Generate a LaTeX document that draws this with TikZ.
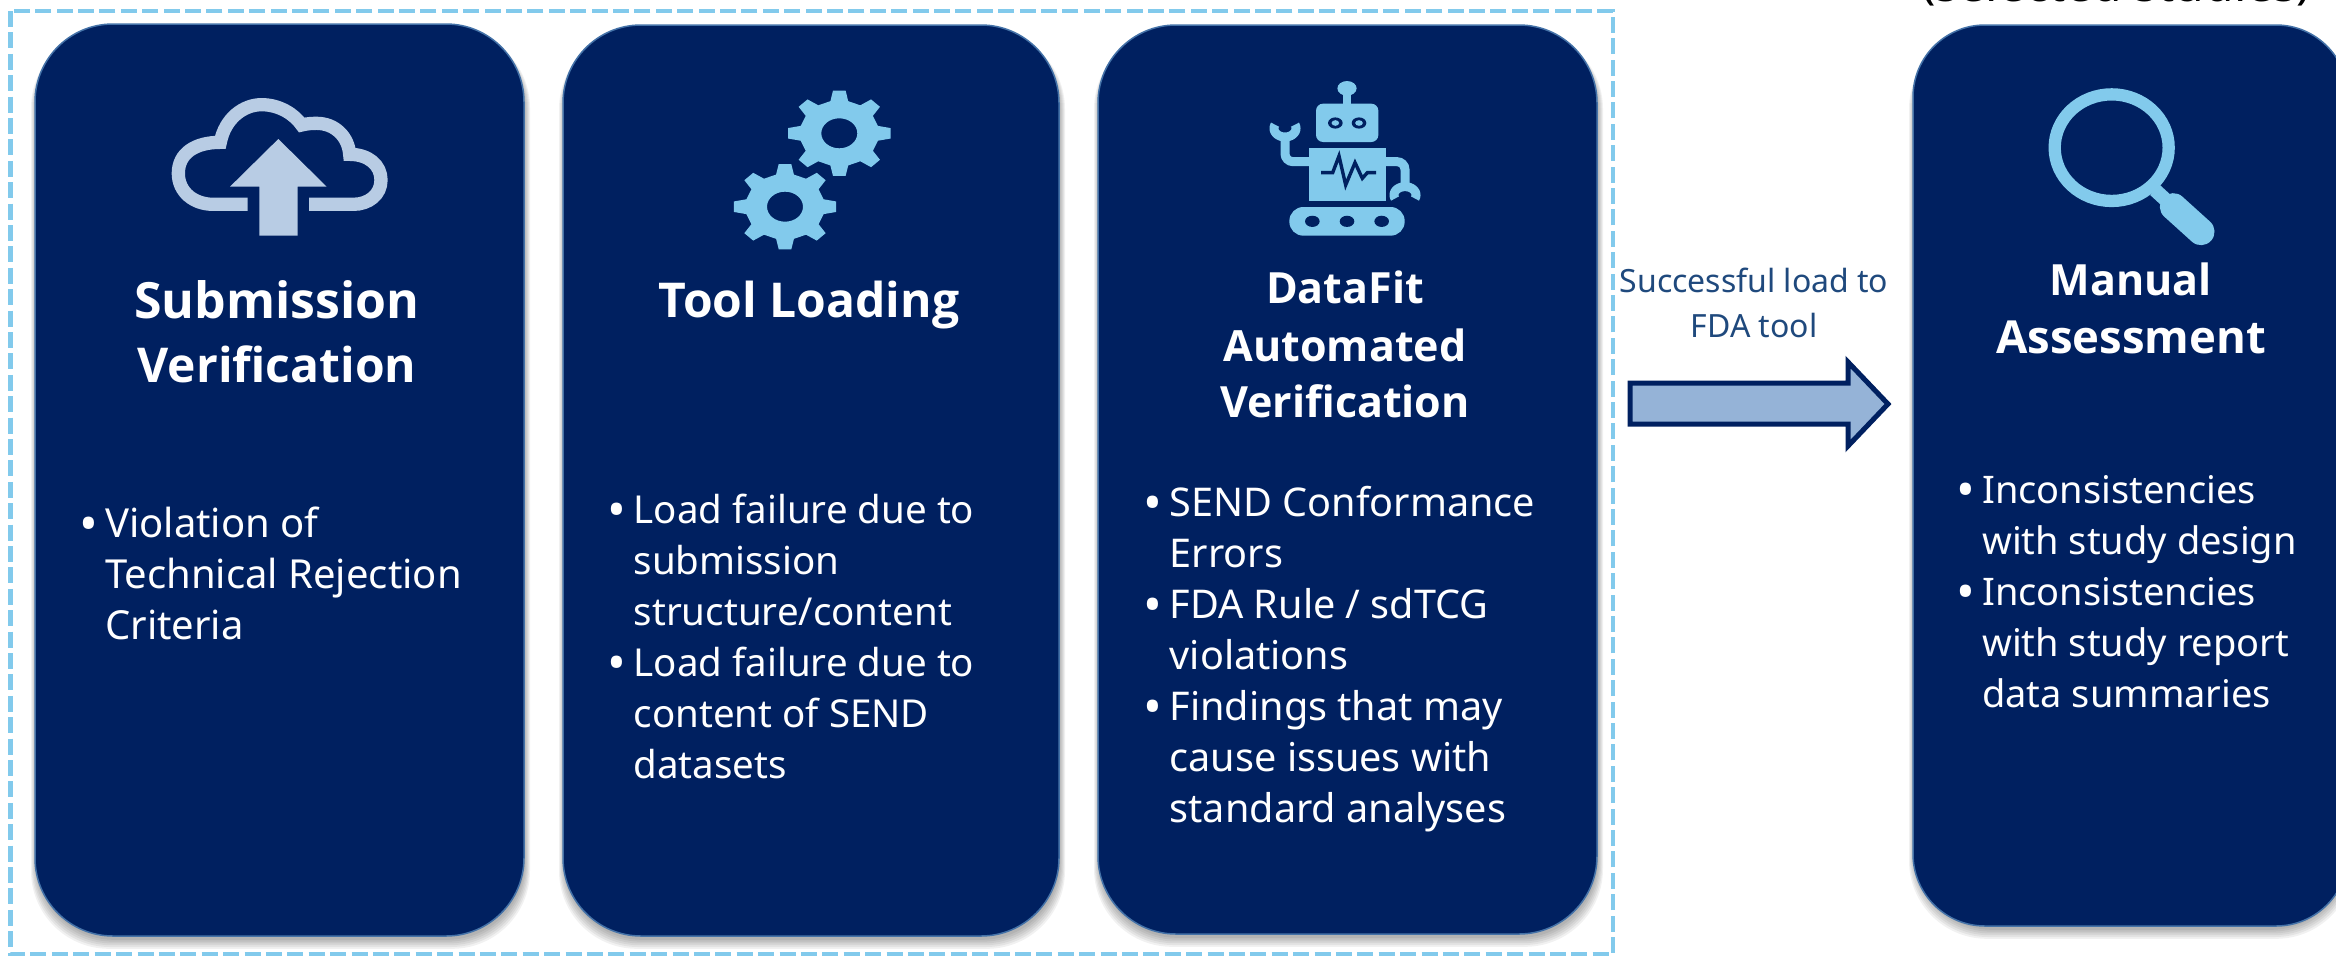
\documentclass[tikz,border=0pt]{standalone}
\usepackage{fontspec}
\setmainfont{Noto Sans}
\newfontfamily\headfont{Open Sans}
\definecolor{navy}{HTML}{002060}
\definecolor{edgeblue}{HTML}{4472A8}
\definecolor{sky}{HTML}{82CAEC}
\definecolor{cloudc}{HTML}{B8CCE4}
\definecolor{arrowfill}{HTML}{95B3D7}
\definecolor{labelc}{HTML}{1F497D}
\tikzset{
  cardbox/.style={draw=edgeblue,line width=1.5pt,fill=navy,rounded corners=78pt,inner sep=0pt},
  shadowbox/.style={fill=black,fill opacity=.055,rounded corners=78pt},
  titletxt/.style={text=white,font=\headfont\bfseries\fontsize{48}{64}\selectfont,inner sep=0pt,anchor=base},
  titlesm/.style={text=white,font=\headfont\bfseries\fontsize{43}{57}\selectfont,inner sep=0pt,anchor=base},
  bodytxt/.style={text=white,font=\fontsize{#1}{51}\selectfont,inner sep=0pt,align=left,anchor=base west},
  labeltxt/.style={text=labelc,font=\fontsize{32}{45}\selectfont,inner sep=0pt,anchor=base},
  toptxt/.style={text=black,font=\fontsize{48}{50}\selectfont,inner sep=0pt,anchor=base},
  dashbox/.style={draw=sky,line width=4.5pt,dash pattern=on 16pt off 5.4pt},
  iconline/.style={draw=sky,line width=9pt},
}
\newcommand{\bul}{\leavevmode\llap{\raisebox{-4.5pt}{\fontsize{50}{51}\selectfont •}\hspace{7pt}}}
\newcommand{\shad}[4]{%
  \foreach \g in {1,...,6}{%
    \fill[shadowbox] (#1-\g+2,#2+6) rectangle (#3+\g,#4+2+1.8*\g);
  }}
\newcommand{\gear}[2]{%
  \begin{scope}[shift={(#1,#2)},x=1.2pt,y=1pt]
    \fill[sky,even odd rule] (-13:33)
      \foreach \a in {0,45,...,315}{ -- (\a-13:33) -- (\a-7:43) -- (\a+7:43) -- (\a+13:33) } -- cycle
      (15,0) .. controls (15,8.3) and (8.3,15) .. (0,15) .. controls (-8.3,15) and (-15,8.3) .. (-15,0)
      .. controls (-15,-8.3) and (-8.3,-15) .. (0,-15) .. controls (8.3,-15) and (15,-8.3) .. (15,0) -- cycle;
  \end{scope}}
\begin{document}
\begin{tikzpicture}[x=1pt,y=-1pt]
\useasboundingbox (0,0) rectangle (2336,956);
\clip (0,0) rectangle (2336,956);
\fill[white] (0,0) rectangle (2336,956);

% dashed frame
\draw[dashbox] (10.5,11) rectangle (1613,954);

% shadows and cards
\shad{35}{24}{524}{936}
\shad{563}{25}{1059}{936}
\shad{1098}{25}{1597}{934}
\shad{1913}{25}{2348}{926}
\node[cardbox,minimum width=489pt,minimum height=912pt] (c1) at (279.5,480) {};
\node[cardbox,minimum width=496pt,minimum height=911pt] (c2) at (811,480.5) {};
\node[cardbox,minimum width=499pt,minimum height=909pt] (c3) at (1347.5,479.5) {};
\node[cardbox,rounded corners=72pt,minimum width=435pt,minimum height=901pt] (c4) at (2130.5,475.5) {};

% top text
\node[toptxt] (top) at (2116,1.5) {\raisebox{3pt}{(}selected studies\raisebox{3pt}{)}};

% titles
\node[titletxt,font=\headfont\bfseries\fontsize{50}{64}\selectfont] (t1a) at (277,318) {Submission};
\node[titletxt] (t1b) at (277,382) {Verification};
\node[titletxt] (t2) at (809,317) {Tool Loading};
\node[titlesm] (t3a) at (1345,303) {DataFit};
\node[titlesm] (t3b) at (1345,361) {Automated};
\node[titlesm] (t3c) at (1345,417) {Verification};
\node[titlesm] (t4a) at (2131,295) {Manual};
\node[titlesm,font=\headfont\bfseries\fontsize{45.5}{57}\selectfont] (t4b) at (2131,353) {Assessment};

% bodies (anchor is the baseline of the last line)
\node[bodytxt=40] (b1) at (105,639) {\bul Violation of\\Technical Rejection\\Criteria};
\node[bodytxt=38.5] (b2) at (633.5,778) {\bul Load failure due to\\submission\\structure/content\\\bul Load failure due to\\content of SEND\\datasets};
\node[bodytxt=39.6] (b3) at (1169.5,822) {\bul SEND Conformance\\Errors\\\bul FDA Rule / sdTCG\\violations\\\bul Findings that may\\cause issues with\\standard analyses};
\node[bodytxt=38] (b4) at (1982,707) {\bul Inconsistencies\\with study design\\\bul Inconsistencies\\with study report\\data summaries};

% arrow
\node[labeltxt] (l1) at (1754,292) {Successful load to};
\node[labeltxt] (l2) at (1754,337) {FDA tool};
\draw[draw=navy,fill=arrowfill,line width=5pt,miter limit=10]
  (1630,383) -- (1848,383) -- (1848,362) -- (1888,404) -- (1848,446) -- (1848,424) -- (1630,424) -- cycle;

% cloud icon
\begin{scope}[shift={(160,85)},x=.33333pt,y=-.33333pt]
  \draw[draw=cloudc,line width=13.3pt,line join=miter]
    (263,358) -- (160,358) .. controls (100,358) and (55,320) .. (55,265)
    .. controls (55,205) and (105,172) .. (181,172)
    .. controls (195,100) and (250,59) .. (305,59)
    .. controls (360,59) and (405,90) .. (425,120)
    .. controls (440,116) and (455,115) .. (470,115)
    .. controls (525,115) and (565,155) .. (569,208)
    .. controls (625,208) and (663,240) .. (663,285)
    .. controls (663,330) and (625,358) .. (580,358) -- (447,358);
  \fill[cloudc] (355,162) -- (500,305) -- (413,305) -- (413,452) -- (298,452) -- (298,305) -- (210,305) -- cycle;
\end{scope}

% gears
\gear{839.3}{133.3}
\gear{785}{206.7}

% robot
\begin{scope}[shift={(1230,60)},x=.33333pt,y=-.33333pt]
  \fill[sky] (338,100) rectangle (364,135);
  \fill[sky] (351,85) ellipse [x radius=9.6pt,y radius=7.3pt];
  \fill[sky,rounded corners=7pt] (258,131) rectangle (445,246);
  \foreach \ex in {316,387}{
    \fill[navy] (\ex,189) ellipse [x radius=7.3pt,y radius=5.6pt];
    \fill[sky] (\ex,189) ellipse [x radius=3.8pt,y radius=2.8pt];
  }
  \fill[sky] (236,263) rectangle (467,424);
  \draw[navy,line width=3.4pt,line join=miter] (273,338) -- (308,338) -- (327,288) -- (347,375) -- (375,308) -- (397,355) -- (412,338) -- (438,338);
  \draw[iconline,rounded corners=8pt] (240,305) -- (165,305) -- (165,235);
  \draw[iconline] plot[domain=205:-25,samples=40,smooth] ({165+33*cos(\x)},{205+26*sin(\x)});
  \draw[iconline,rounded corners=8pt] (460,305) -- (525,305) -- (525,375);
  \draw[iconline] plot[domain=155:385,samples=40,smooth] ({525+33*cos(\x)},{405+25*sin(\x)});
  \fill[sky,rounded corners=14pt] (178,441) rectangle (524,527);
  \foreach \tx in {247,351,455}{
    \fill[navy] (\tx,484) ellipse [x radius=7.3pt,y radius=5.6pt];
  }
\end{scope}

% magnifier
\begin{scope}[shift={(1900,0)},x=.33333pt,y=-.33333pt]
  \draw[sky,line width=12.3pt] (635,443) ellipse [x radius=57pt,y radius=53.3pt];
  \draw[sky,line width=14pt] (765,570) -- (825,625);
  \draw[sky,line width=27pt,line cap=round] (820,620) -- (903,695);
\end{scope}
\end{tikzpicture}
\end{document}
